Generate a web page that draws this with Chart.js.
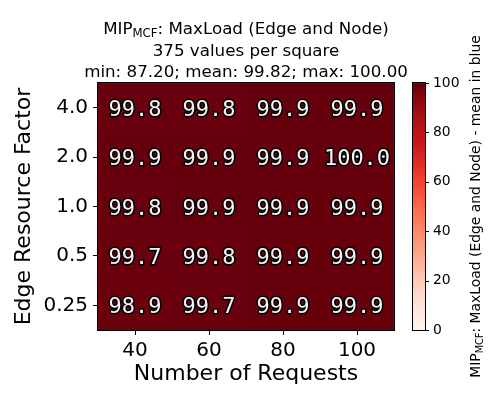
<!DOCTYPE html>
<html>
<head>
<meta charset="utf-8">
<script src="https://cdn.jsdelivr.net/npm/chart.js@4/dist/chart.umd.min.js"></script>
<style>
  html, body { margin: 0; padding: 0; background: #ffffff; }
  #wrap { position: relative; width: 500px; height: 400px; }
  #main { position: absolute; left: 0; top: 0; }
</style>
</head>
<body>
<div id="wrap">
  <canvas id="main" width="500" height="400"></canvas>
</div>
<script>
// ---------------- data ----------------
const requests = ['40', '60', '80', '100'];                 // x categories
const resourceFactors = ['0.25', '0.5', '1.0', '2.0', '4.0']; // y categories, bottom -> top
// mean MaxLoad per square, one array per resource factor (x order: 40, 60, 80, 100)
const row_025 = [98.9, 99.7, 99.9, 99.9];
const row_05  = [99.7, 99.8, 99.9, 99.9];
const row_10  = [99.8, 99.9, 99.9, 99.9];
const row_20  = [99.9, 99.9, 99.9, 100.0];
const row_40  = [99.8, 99.8, 99.9, 99.9];
const rows = [row_025, row_05, row_10, row_20, row_40];
const colorbarTicks = [0, 20, 40, 60, 80, 100];
const titleLine2 = '375 values per square';
const titleLine3 = 'min: 87.20; mean: 99.82; max: 100.00';

// ---------------- colormap (matplotlib Reds) ----------------
const REDS = [[255,245,240],[254,224,210],[252,187,161],[252,146,114],[251,106,74],
              [239,59,44],[203,24,29],[165,15,21],[103,0,13]];
function reds(t) {
  t = Math.max(0, Math.min(1, t));
  const n = REDS.length - 1;
  const p = t * n;
  const i = Math.min(Math.floor(p), n - 1);
  const f = p - i;
  const a = REDS[i], b = REDS[i + 1];
  const c = a.map((v, k) => Math.round(v + (b[k] - v) * f));
  return `rgb(${c[0]},${c[1]},${c[2]})`;
}
const VMIN = 0, VMAX = 100;

const SANS = '"DejaVu Sans", "Liberation Sans", sans-serif';
const MONO = '"DejaVu Sans Mono", "Liberation Mono", monospace';

// ---------------- heatmap cells ----------------
const datasets = rows.map((vals, r) => ({
  label: resourceFactors[r],
  data: vals.map(() => 1),
  values: vals,
  backgroundColor: vals.map(v => reds((v - VMIN) / (VMAX - VMIN))),
  borderWidth: 0,
  barPercentage: 1.0,
  categoryPercentage: 1.0,
  yAxisID: 'y'
}));

const cellLabels = {
  id: 'cellLabels',
  afterDatasetsDraw(chart) {
    const ctx = chart.ctx;
    ctx.save();
    ctx.font = `22px ${MONO}`;
    ctx.textAlign = 'center';
    ctx.textBaseline = 'alphabetic';
    ctx.lineJoin = 'round';
    chart.data.datasets.forEach((ds, di) => {
      const meta = chart.getDatasetMeta(di);
      meta.data.forEach((el, i) => {
        const c = el.getCenterPoint();
        const txt = ds.values[i].toFixed(1);
        ctx.lineWidth = 3;
        ctx.strokeStyle = '#000000';
        ctx.strokeText(txt, c.x, c.y + 8);
        ctx.fillStyle = '#f4f4f4';
        ctx.fillText(txt, c.x, c.y + 8);
      });
    });
    ctx.restore();
  }
};

const decor = {
  id: 'decor',
  afterDraw(chart) {
    const ctx = chart.ctx;
    const a = chart.chartArea;
    ctx.save();
    // axes frame
    ctx.strokeStyle = '#000000';
    ctx.lineWidth = 1;
    ctx.strokeRect(a.left - 0.5, a.top - 0.5, (a.right - a.left) + 1, (a.bottom - a.top) + 1);

    // colorbar, positioned on the 'cb' scale
    const cb = chart.scales.cb;
    const bx0 = a.right + 19, bw = 12;
    const steps = 200;
    for (let i = 0; i < steps; i++) {
      const t0 = i / steps, t1 = (i + 1) / steps;
      const ya = cb.getPixelForValue(VMIN + (VMAX - VMIN) * t0);
      const yb = cb.getPixelForValue(VMIN + (VMAX - VMIN) * t1);
      ctx.fillStyle = reds((t0 + t1) / 2);
      ctx.fillRect(bx0, Math.min(ya, yb) - 0.5, bw, Math.abs(ya - yb) + 1);
    }
    const yTop = cb.getPixelForValue(VMAX), yBot = cb.getPixelForValue(VMIN);
    ctx.strokeStyle = '#000000';
    ctx.lineWidth = 1;
    ctx.strokeRect(bx0 - 0.5, yTop - 0.5, bw + 1, (yBot - yTop) + 1);
    ctx.beginPath();
    colorbarTicks.forEach(v => {
      const y = Math.round(cb.getPixelForValue(v)) + 0.5;
      ctx.moveTo(bx0 + bw, y);
      ctx.lineTo(bx0 + bw + 4, y);
    });
    ctx.stroke();

    // colorbar label (rotated, with subscript)
    ctx.save();
    const cbig = `13.9px ${SANS}`, csmall = `9.7px ${SANS}`;
    const q1 = 'MIP', q2 = 'MCF', q3 = ': MaxLoad (Edge and Node) - mean in blue';
    ctx.font = cbig; const u1 = ctx.measureText(q1).width, u3 = ctx.measureText(q3).width;
    ctx.font = csmall; const u2 = ctx.measureText(q2).width;
    ctx.translate(a.right + 86, (a.top + a.bottom) / 2);
    ctx.rotate(-Math.PI / 2);
    ctx.fillStyle = '#000000';
    ctx.textAlign = 'left';
    ctx.textBaseline = 'alphabetic';
    let cx0 = -(u1 + u2 + u3) / 2;
    ctx.font = cbig; ctx.fillText(q1, cx0, 0); cx0 += u1;
    ctx.font = csmall; ctx.fillText(q2, cx0, 2.5); cx0 += u2;
    ctx.font = cbig; ctx.fillText(q3, cx0, 0);
    ctx.restore();

    // title (three lines, subscript in the first)
    const cx = (a.left + a.right) / 2;
    ctx.fillStyle = '#000000';
    ctx.textBaseline = 'alphabetic';
    const big = `16.7px ${SANS}`, small = `11.7px ${SANS}`;
    const p1 = 'MIP', p2 = 'MCF', p3 = ': MaxLoad (Edge and Node)';
    ctx.font = big; const w1 = ctx.measureText(p1).width, w3 = ctx.measureText(p3).width;
    ctx.font = small; const w2 = ctx.measureText(p2).width;
    let x = cx - (w1 + w2 + w3) / 2;
    const y1 = 34;
    ctx.textAlign = 'left';
    ctx.font = big; ctx.fillText(p1, x, y1); x += w1;
    ctx.font = small; ctx.fillText(p2, x, y1 + 3); x += w2;
    ctx.font = big; ctx.fillText(p3, x, y1);
    ctx.textAlign = 'center';
    ctx.fillText(titleLine2, cx, 55.5);
    ctx.fillText(titleLine3, cx, 77);
    ctx.restore();
  }
};

new Chart(document.getElementById('main'), {
  type: 'bar',
  data: { labels: requests, datasets },
  options: {
    responsive: false,
    animation: false,
    devicePixelRatio: 1,
    layout: { padding: { left: 0, top: 83, right: 0, bottom: 0 } },
    plugins: { legend: { display: false }, tooltip: { enabled: false }, title: { display: false } },
    scales: {
      x: {
        stacked: true,
        offset: true,
        grid: { offset: false, drawOnChartArea: false, drawTicks: true, tickLength: 5, color: '#000000', tickColor: '#000000' },
        border: { display: false },
        ticks: { color: '#000000', font: { family: SANS, size: 20 }, padding: 4, maxRotation: 0, autoSkip: false },
        title: { display: true, text: 'Number of Requests', color: '#000000', font: { family: SANS, size: 22 }, padding: { top: 0, bottom: 13 } },
        afterFit(scale) { scale.height = 70; }
      },
      y: {
        stacked: true,
        position: 'left',
        min: 0,
        max: rows.length,
        grid: { drawOnChartArea: false, drawTicks: true, tickLength: 5, color: '#000000', tickColor: '#000000' },
        border: { display: false },
        afterBuildTicks(scale) { scale.ticks = resourceFactors.map((_, i) => ({ value: i + 0.5 })); },
        ticks: {
          color: '#000000', font: { family: SANS, size: 20 }, padding: 5, autoSkip: false,
          callback: (v) => resourceFactors[Math.floor(v)]
        },
        title: { display: true, text: 'Edge Resource Factor', color: '#000000', font: { family: SANS, size: 22 }, padding: { top: 11, bottom: 0 } },
        afterFit(scale) { scale.width = 98; }
      },
      cb: {
        type: 'linear',
        axis: 'y',
        position: 'right',
        min: VMIN,
        max: VMAX,
        afterBuildTicks(scale) { scale.ticks = colorbarTicks.map(v => ({ value: v })); },
        grid: { display: false, drawTicks: false, drawOnChartArea: false },
        border: { display: false },
        ticks: { color: '#000000', font: { family: SANS, size: 13.9 }, padding: 39, autoSkip: false },
        afterFit(scale) { scale.width = 106; }
      }
    }
  },
  plugins: [cellLabels, decor]
});
</script>
</body>
</html>
